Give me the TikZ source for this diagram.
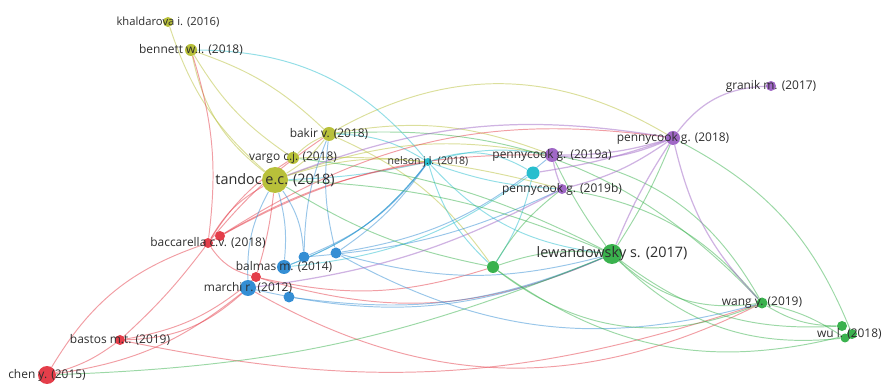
\documentclass[tikz,border=0pt]{standalone}
\usepackage{fontspec}
\setmainfont{Open Sans}
\usetikzlibrary{backgrounds}
\definecolor{ycol}{RGB}{184,192,58}
\definecolor{pcol}{RGB}{160,104,198}
\definecolor{ccol}{RGB}{40,190,206}
\definecolor{gcol}{RGB}{58,178,78}
\definecolor{bcol}{RGB}{52,142,212}
\definecolor{rcol}{RGB}{228,62,74}
\definecolor{txt}{RGB}{45,45,45}
\tikzstyle{paper} = [circle, inner sep=0pt, draw=none]
\tikzstyle{link} = [line width=.55pt, draw opacity=.5]

\begin{document}
\begin{tikzpicture}
    [
        x=0.02cm, y=-0.02cm,
        lbl/.style={text=txt, inner sep=0pt, font=\fontsize{6.8}{8}\selectfont},
        lblbig/.style={lbl, font=\fontsize{8.2}{9}\selectfont},
        lblsmall/.style={lbl, font=\fontsize{6}{7}\selectfont}
    ]
    \useasboundingbox (0,0) rectangle (882,384);

    % papers
    \node[paper, fill=ycol, minimum size=.20cm] (khal) at (168,22) {};
    \node[paper, fill=ycol, minimum size=.24cm] (bennett) at (191,50) {};
    \node[paper, fill=ycol, minimum size=.28cm] (bakir) at (329,134) {};
    \node[paper, fill=ycol, minimum size=.24cm] (vargo) at (293,158) {};
    \node[paper, fill=ycol, minimum size=.52cm] (tandoc) at (275,180) {};

    \node[paper, fill=ccol, minimum size=.16cm] (nelson) at (428,162) {};
    \node[paper, fill=ccol, minimum size=.26cm] (cyn) at (533,173) {};

    \node[paper, fill=pcol, minimum size=.28cm] (pa) at (552,155) {};
    \node[paper, fill=pcol, minimum size=.20cm] (pb) at (562,189) {};
    \node[paper, fill=pcol, minimum size=.28cm] (p18) at (673,138) {};
    \node[paper, fill=pcol, minimum size=.20cm] (granik) at (771,86) {};

    \node[paper, fill=gcol, minimum size=.40cm] (lew) at (612,254) {};
    \node[paper, fill=gcol, minimum size=.24cm] (gsm) at (493,267) {};
    \node[paper, fill=gcol, minimum size=.22cm] (wang) at (762,303) {};
    \node[paper, fill=gcol, minimum size=.20cm] (wua) at (842,326) {};
    \node[paper, fill=gcol, minimum size=.20cm] (wub) at (852,334) {};
    \node[paper, fill=gcol, minimum size=.18cm] (wuc) at (845,338) {};

    \node[paper, fill=rcol, minimum size=.20cm] (bacA) at (220,236) {};
    \node[paper, fill=rcol, minimum size=.20cm] (bac) at (208,243) {};
    \node[paper, fill=rcol, minimum size=.20cm] (rd1) at (256,277) {};
    \node[paper, fill=rcol, minimum size=.20cm] (bastos) at (120,340) {};
    \node[paper, fill=rcol, minimum size=.36cm] (chen) at (47,375) {};

    \node[paper, fill=bcol, minimum size=.28cm] (balmas) at (284,267) {};
    \node[paper, fill=bcol, minimum size=.22cm] (bl1) at (304,257) {};
    \node[paper, fill=bcol, minimum size=.22cm] (bl2) at (336,253) {};
    \node[paper, fill=bcol, minimum size=.32cm] (marchi) at (248,288) {};
    \node[paper, fill=bcol, minimum size=.22cm] (bl3) at (289,297) {};

    % links (negative = bend left)
    \begin{scope}[on background layer]
        \foreach \a/\b/\c in {bennett/tandoc/20, bennett/vargo/12, bennett/bakir/-12,
            khal/tandoc/15, bakir/p18/-30, bakir/pa/-15, tandoc/pa/-15,
            vargo/pb/-8, tandoc/bakir/10, vargo/bakir/-10, tandoc/nelson/-12,
            bakir/gsm/-15}
            \draw[link, draw=ycol] (\a) to[bend right=\c] (\b);

        \foreach \a/\b/\c in {bennett/nelson/-25, nelson/cyn/-25, nelson/pa/-12,
            nelson/pb/8, nelson/lew/20, nelson/gsm/15, nelson/bakir/15,
            nelson/balmas/-15, cyn/gsm/-10, cyn/balmas/-15, nelson/tandoc/-5}
            \draw[link, draw=ccol] (\a) to[bend right=\c] (\b);

        \foreach \a/\b/\c in {chen/bastos/10, chen/bac/-20, chen/marchi/15,
            bastos/bac/5, bastos/marchi/20, bastos/rd1/15, bastos/wang/15,
            bac/bennett/12, bac/tandoc/-15, bac/vargo/-12, bac/bakir/-8, bac/rd1/20,
            bac/pa/-15, bacA/p18/-20, bacA/nelson/-10, rd1/lew/20, rd1/gsm/15,
            marchi/wang/28, rd1/tandoc/5}
            \draw[link, draw=rcol] (\a) to[bend right=\c] (\b);

        \foreach \a/\b/\c in {balmas/nelson/15, bl1/nelson/15, bl2/nelson/10,
            bl2/pa/15, bl1/pb/10, balmas/tandoc/10, bl1/tandoc/15, bl1/bakir/-10,
            bl2/bakir/-10, marchi/tandoc/-15, marchi/lew/18, bl2/wang/22,
            bl3/lew/15, bl2/lew/15}
            \draw[link, draw=bcol] (\a) to[bend right=\c] (\b);

        \foreach \a/\b/\c in {gsm/lew/-12, gsm/wang/30, gsm/wub/25, lew/wang/25,
            lew/wua/20, lew/wuc/25, wang/wua/15, wang/wuc/-10, gsm/pb/-10,
            lew/p18/5, lew/pa/-5, pa/wang/-25, pb/wang/-20, p18/wub/-20,
            tandoc/lew/-10, tandoc/gsm/10, vargo/lew/-10, bakir/wang/-25,
            chen/lew/10}
            \draw[link, draw=gcol] (\a) to[bend right=\c] (\b);

        \foreach \a/\b/\c in {granik/p18/25, p18/pa/-15, p18/pa/-8, p18/pb/-10,
            p18/cyn/-5, pa/pb/5, p18/tandoc/15, p18/lew/5, p18/wang/15,
            pb/marchi/-10}
            \draw[link, draw=pcol, line width=.7pt] (\a) to[bend right=\c] (\b);
    \end{scope}

    % labels
    \node[lbl, font=\fontsize{6.4}{7}\selectfont] at (khal) {khaldarova i. (2016)};
    \node[lbl] at (bennett) {bennett w.l. (2018)};
    \node[lbl] at (bakir) {bakir v. (2018)};
    \node[lbl] at (vargo) {vargo c.j. (2018)};
    \node[lblbig] at (tandoc) {tandoc e.c. (2018)};
    \node[lblsmall] at (nelson) {nelson j.l. (2018)};
    \node[lbl] at (pa) {pennycook g. (2019a)};
    \node[lbl] at (pb) {pennycook g. (2019b)};
    \node[lbl] at (p18) {pennycook g. (2018)};
    \node[lbl] at (granik) {granik m. (2017)};
    \node[lblbig] at (lew) {lewandowsky s. (2017)};
    \node[lbl] at (wang) {wang y. (2019)};
    \node[lbl, anchor=east] at (882,334) {wu l. (2018)};
    \node[lbl] at (bac) {baccarella c.v. (2018)};
    \node[lbl] at (balmas) {balmas m. (2014)};
    \node[lbl] at (marchi) {marchi r. (2012)};
    \node[lbl] at (bastos) {bastos m.t. (2019)};
    \node[lbl] at (chen) {chen y. (2015)};

\end{tikzpicture}
\end{document}
